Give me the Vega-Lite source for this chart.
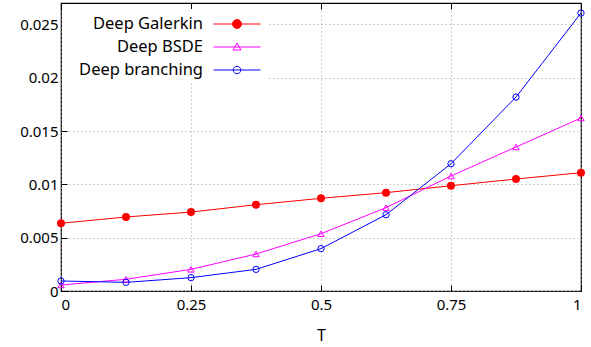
{
  "$schema": "https://vega.github.io/schema/vega-lite/v6.json",
  "width": 520,
  "height": 288,
  "autosize": {"type": "none"},
  "padding": {"left": 61, "top": 3, "right": 10, "bottom": 56},
  "background": "white",
  "config": {
    "font": "Noto Sans",
    "view": {"stroke": "black", "strokeWidth": 1.2},
    "axis": {
      "labelFont": "Noto Sans", "labelFontSize": 15, "labelColor": "black",
      "titleFont": "Noto Sans", "titleFontSize": 16, "titleColor": "black", "titleFontWeight": "normal",
      "domain": false, "tickColor": "black", "tickSize": -6, "tickWidth": 1,
      "gridColor": "#a0a0a0", "gridDash": [1, 3], "gridWidth": 1
    }
  },
  "data": {
    "values": [
      {"T": 0, "series": "Deep Galerkin", "err": 0.00635},
      {"T": 0.125, "series": "Deep Galerkin", "err": 0.00694},
      {"T": 0.25, "series": "Deep Galerkin", "err": 0.0074},
      {"T": 0.375, "series": "Deep Galerkin", "err": 0.00809},
      {"T": 0.5, "series": "Deep Galerkin", "err": 0.00869},
      {"T": 0.625, "series": "Deep Galerkin", "err": 0.00922},
      {"T": 0.75, "series": "Deep Galerkin", "err": 0.00987},
      {"T": 0.875, "series": "Deep Galerkin", "err": 0.0105},
      {"T": 1, "series": "Deep Galerkin", "err": 0.01109},
      {"T": 0, "series": "Deep BSDE", "err": 0.00056},
      {"T": 0.125, "series": "Deep BSDE", "err": 0.0011},
      {"T": 0.25, "series": "Deep BSDE", "err": 0.00203},
      {"T": 0.375, "series": "Deep BSDE", "err": 0.00347},
      {"T": 0.5, "series": "Deep BSDE", "err": 0.00537},
      {"T": 0.625, "series": "Deep BSDE", "err": 0.00781},
      {"T": 0.75, "series": "Deep BSDE", "err": 0.01078},
      {"T": 0.875, "series": "Deep BSDE", "err": 0.0135},
      {"T": 1, "series": "Deep BSDE", "err": 0.01622},
      {"T": 0, "series": "Deep branching", "err": 0.00094},
      {"T": 0.125, "series": "Deep branching", "err": 0.00081},
      {"T": 0.25, "series": "Deep branching", "err": 0.00125},
      {"T": 0.375, "series": "Deep branching", "err": 0.00203},
      {"T": 0.5, "series": "Deep branching", "err": 0.00397},
      {"T": 0.625, "series": "Deep branching", "err": 0.00715},
      {"T": 0.75, "series": "Deep branching", "err": 0.01193},
      {"T": 0.875, "series": "Deep branching", "err": 0.01818},
      {"T": 1, "series": "Deep branching", "err": 0.02606}
    ]
  },
  "layer": [
    {
      "mark": {"type": "line", "strokeWidth": 1},
      "encoding": {
        "x": {"field": "T", "type": "quantitative", "scale": {"domain": [0, 1], "nice": false, "zero": false},
              "axis": {"values": [0, 0.25, 0.5, 0.75, 1], "format": ".2~f", "title": "T", "grid": true, "labelPadding": 12, "titlePadding": 15}},
        "y": {"field": "err", "type": "quantitative", "scale": {"domain": [0, 0.027], "nice": false},
              "axis": {"values": [0, 0.005, 0.01, 0.015, 0.02, 0.025], "format": ".3~f", "title": null, "grid": true, "labelPadding": 9}},
        "color": {"field": "series", "type": "nominal",
                  "scale": {"domain": ["Deep Galerkin", "Deep BSDE", "Deep branching"], "range": ["#ff0000", "#ff00ff", "#0000ff"]},
                  "legend": {
                    "title": null, "orient": "none", "legendX": 1, "legendY": 6,
                    "fillColor": "white", "padding": 4,
                    "labelFont": "Noto Sans", "labelFontSize": 16.5, "labelColor": "black",
                    "rowPadding": 3,
                    "encode": {
                      "symbols": {"update": {
                        "x": {"value": 171},
                        "y": {"value": 11},
                        "size": {"value": 2209},
                        "strokeWidth": {"value": 1},
                        "stroke": {"signal": "scale('color', datum.value)"},
                        "shape": {"signal": "datum.value === 'Deep Galerkin' ? 'M-1,0L1,0M0.19,0A0.19,0.19 0 1,1 -0.19,0A0.19,0.19 0 1,1 0.19,0Z' : datum.value === 'Deep BSDE' ? 'M-1,0L1,0M0,-0.17L0.17,0.13L-0.17,0.13Z' : 'M-1,0L1,0M0.16,0A0.16,0.16 0 1,1 -0.16,0A0.16,0.16 0 1,1 0.16,0Z'"},
                        "fill": {"signal": "datum.value === 'Deep Galerkin' ? '#ff0000' : 'white'"},
                        "fillOpacity": {"signal": "datum.value === 'Deep Galerkin' ? 1 : 0"},
                        "opacity": {"value": 1}
                      }},
                      "labels": {"update": {
                        "x": {"value": 137},
                        "y": {"value": 11},
                        "align": {"value": "right"}
                      }}
                    }
                  }}
      }
    },
    {
      "transform": [{"filter": "datum.series === 'Deep Galerkin'"}],
      "mark": {"type": "point", "shape": "circle", "filled": true, "size": 64, "opacity": 1},
      "encoding": {
        "x": {"field": "T", "type": "quantitative",
              "axis": {"orient": "top", "values": [0, 0.25, 0.5, 0.75, 1], "labels": false, "title": null, "grid": false}},
        "y": {"field": "err", "type": "quantitative", "axis": null},
        "color": {"field": "series", "type": "nominal", "legend": null}
      }
    },
    {
      "transform": [{"filter": "datum.series === 'Deep BSDE'"}],
      "mark": {"type": "point", "shape": "triangle-up", "filled": false, "size": 40, "strokeWidth": 1, "opacity": 1},
      "encoding": {
        "x": {"field": "T", "type": "quantitative", "axis": null},
        "y": {"field": "err", "type": "quantitative", "axis": null},
        "color": {"field": "series", "type": "nominal", "legend": null}
      }
    },
    {
      "transform": [{"filter": "datum.series === 'Deep branching'"}],
      "mark": {"type": "point", "shape": "circle", "filled": false, "size": 40, "strokeWidth": 1, "opacity": 1},
      "encoding": {
        "x": {"field": "T", "type": "quantitative", "axis": null},
        "y": {"field": "err", "type": "quantitative", "axis": null},
        "color": {"field": "series", "type": "nominal", "legend": null}
      }
    }
  ],
  "resolve": {"axis": {"x": "independent", "y": "independent"}}
}
